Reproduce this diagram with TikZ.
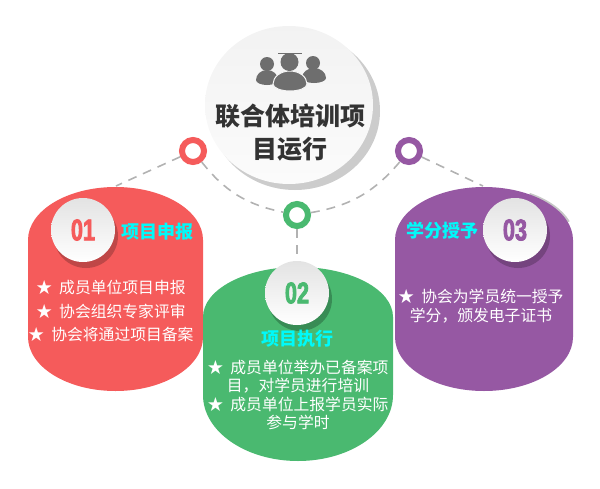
\documentclass[tikz,border=0pt]{standalone}
\usepackage{xcolor}
\usepackage{fontspec}
\usepackage{tikz}
\usetikzlibrary{shapes.geometric}
\setmainfont{Noto Sans CJK SC}
\newfontfamily\numfont[FakeStretch=0.72,BoldFeatures={FakeBold=2.5}]{Liberation Sans}
\definecolor{blobred}{RGB}{245, 91, 91}
\definecolor{blobgreen}{RGB}{74, 185, 112}
\definecolor{blobpurple}{RGB}{150, 88, 163}
\definecolor{titlecyan}{RGB}{0, 250, 250}
\definecolor{darktext}{RGB}{51, 51, 51}
\definecolor{icongray}{RGB}{110, 110, 110}

\begin{document}
\begin{tikzpicture}[
        x=1pt, y=-1pt,
        every node/.style={inner sep=0pt},
        hubdisc/.style={ellipse, minimum width=168pt, minimum height=158pt, top color=gray!10, bottom color=gray!3},
        badge/.style={circle, minimum size=64pt, top color=gray!22, bottom color=white},
        ring/.style={circle, minimum size=22pt, line width=6pt, fill=white},
        bodytext/.style={font=\fontsize{15.8}{18.5}\selectfont, text=white, align=center},
        heading/.style={font=\fontsize{18}{20}\selectfont\bfseries, text=titlecyan},
        number/.style={font=\fontsize{30}{32}\numfont\bfseries},
        dashline/.style={line width=1.6pt, gray!60, dash pattern=on 9pt off 7pt}
    ]
        \useasboundingbox (0,0) rectangle (600,488);

        \draw[gray!45, line width=2.5pt] (485,240) ++(300:89 and 53) arc[start angle=300, end angle=340, x radius=89, y radius=53];
        \fill[blobred] (28,240) arc[start angle=180, end angle=360, x radius=87.5, y radius=53] -- (203,337) arc[start angle=0, end angle=180, x radius=87.5, y radius=54] -- cycle;
        \fill[blobgreen] (203,317) arc[start angle=180, end angle=360, x radius=95, y radius=50] -- (393,395) arc[start angle=0, end angle=180, x radius=95, y radius=66] -- cycle;
        \fill[blobpurple] (395,240) arc[start angle=180, end angle=360, x radius=89, y radius=53] -- (573,337) arc[start angle=0, end angle=180, x radius=89, y radius=54] -- cycle;

        % central disc
        \fill[gray!40] (295,111) ellipse[x radius=85, y radius=79];
        \node[hubdisc] (hub) at (289,105) {};

        % people icon
        \draw[icongray, line width=0.7pt] (278,53) -- (302,53);
        \fill[icongray] (267,64) circle[radius=7];
        \fill[icongray] (313,63) circle[radius=7];
        \fill[icongray] (256,80) arc[start angle=180, end angle=360, x radius=11, y radius=10] arc[start angle=0, end angle=180, x radius=11, y radius=5] -- cycle;
        \fill[icongray] (302,78) arc[start angle=180, end angle=360, x radius=12, y radius=10] arc[start angle=0, end angle=180, x radius=12, y radius=5] -- cycle;
        \fill[icongray, draw=gray!8, line width=1pt] (273,84) arc[start angle=180, end angle=360, x radius=17, y radius=13] arc[start angle=0, end angle=180, x radius=17, y radius=7] -- cycle;
        \fill[icongray] (289.5,62) circle[radius=9];

        \node[align=center, font=\fontsize{25}{33}\selectfont\bfseries, text=darktext] (hubtitle) at (290,133) {联合体培训项\\目运行};

        % badges
        \fill[blobred!60!black, opacity=0.55] (86,236) circle[radius=32];
        \fill[blobgreen!60!black, opacity=0.6] (300,299) circle[radius=32];
        \fill[blobpurple!60!black, opacity=0.55] (518,236) circle[radius=32];
        \node[badge] (badgeone) at (83,230) {};
        \node[badge] (badgetwo) at (297,293) {};
        \node[badge] (badgethree) at (515,230) {};
        \node[number, text=blobred] at (badgeone) {01};
        \node[number, text=blobgreen] at (badgetwo) {02};
        \node[number, text=blobpurple] at (badgethree) {03};

        % rings and dashes
        \node[ring, draw=blobred] (ringred) at (193,151) {};
        \node[ring, draw=blobgreen] (ringgreen) at (297,215) {};
        \node[ring, draw=blobpurple] (ringpurple) at (409,151) {};
        \coordinate (redtop) at (116,186);
        \coordinate (purpletop) at (483,186);

        \draw[dashline] (ringred) -- (redtop);
        \draw[dashline] (ringred) to[bend right=20] (ringgreen);
        \draw[dashline] (ringgreen) to[bend right=20] (ringpurple);
        \draw[dashline] (ringpurple) -- (purpletop);
        \draw[dashline] (ringgreen) -- (badgetwo);

        \node[heading] (titleone) at (157,232) {项目申报};
        \node[heading] (titletwo) at (297,339) {项目执行};
        \node[heading] (titlethree) at (442,231) {学分授予};

        \node[bodytext, font=\fontsize{15.8}{23.5}\selectfont] (textone) at (111,311) {★\ \ 成员单位项目申报\\★\ \ 协会组织专家评审\\★\ \ 协会将通过项目备案};
        \node[bodytext] (texttwo) at (298,395) {★\ \ 成员单位举办已备案项\\目，对学员进行培训\\★\ \ 成员单位上报学员实际\\参与学时};
        \node[bodytext] (textthree) at (481,306) {★\ \ 协会为学员统一授予\\学分，颁发电子证书};

    \end{tikzpicture}
\end{document}
